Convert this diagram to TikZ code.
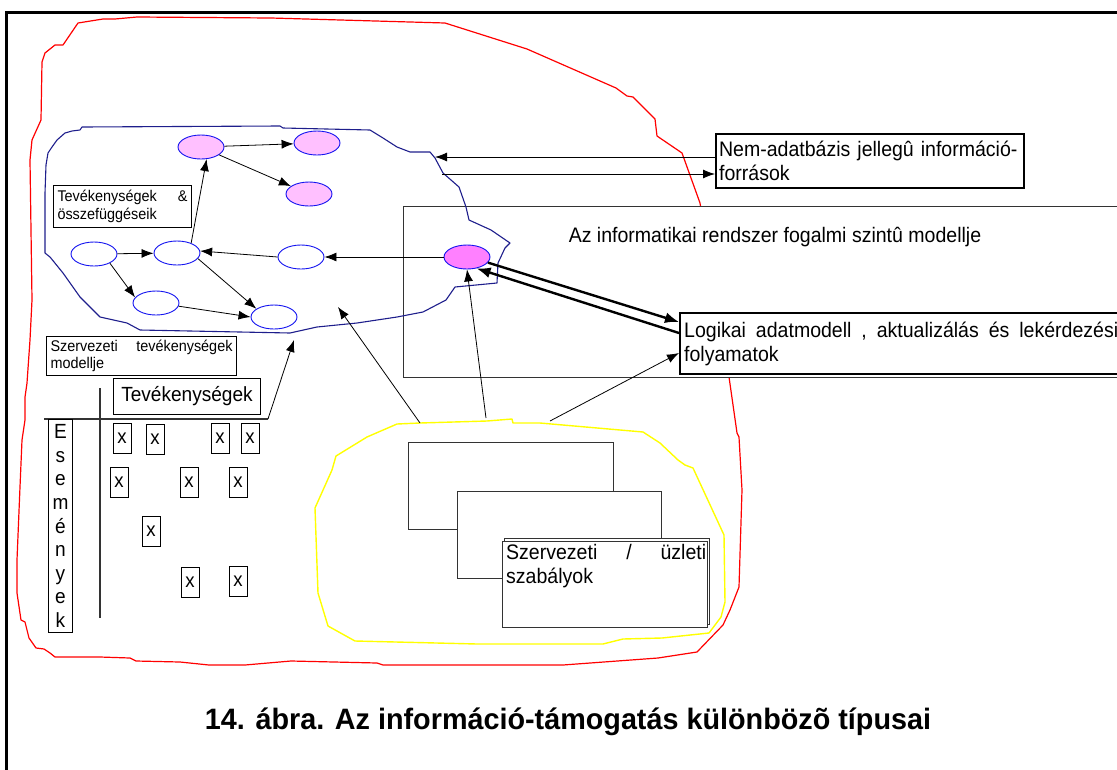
\documentclass[tikz,border=0pt]{standalone}
\usepackage{fontspec}
\setmainfont[FakeStretch=0.93]{Liberation Sans}
\newfontfamily\titlefont[FakeStretch=0.975]{Liberation Sans}
\usetikzlibrary{shapes.geometric,arrows.meta}
\definecolor{lpink}{HTML}{FFC0FF}
\definecolor{mpink}{HTML}{FF80FF}
\definecolor{ellblue}{HTML}{1414F0}
\definecolor{blobblue}{HTML}{1E1E8C}
\definecolor{boxgray}{HTML}{333333}
\definecolor{yel}{HTML}{FFFF00}
\definecolor{redl}{HTML}{FF0000}
\begin{document}
\begin{tikzpicture}[x=1pt,y=-1pt,
  ell/.style={ellipse,draw=ellblue,line width=0.9pt,minimum width=46pt,minimum height=24pt,inner sep=0pt,fill=white},
  pinkell/.style={ell,fill=lpink},
  magell/.style={ell,fill=mpink},
  arr/.style={-{Latex[length=12pt,width=9pt]},line width=0.8pt},
  tarr/.style={-{Latex[length=14pt,width=11pt]},line width=2.4pt},
  xbox/.style={draw,line width=0.8pt,minimum width=18pt,minimum height=30pt,inner sep=0pt,font=\fontsize{20}{24}\selectfont},
  gbox/.style={draw=boxgray,line width=1pt},
  small/.style={font=\fontsize{15.5}{17.5}\selectfont},
  mid/.style={font=\fontsize{21}{24.5}\selectfont}
]
\useasboundingbox (0,0) rectangle (1117,769);
\clip (0,0) rectangle (1117,769);
% outer frame
\draw[line width=3pt] (6,12) rectangle (1140,800);
% red outline
\draw[redl,line width=1.2pt,line join=round]
 (41,120) -- (42,62) -- (45,53) -- (55,45) -- (63,45) -- (78,23) -- (103,19) -- (115,19) -- (137,17)
 -- (271,18) -- (445,23) -- (527,49) -- (616,88) -- (627,96) -- (633,97) -- (650,114) -- (655,119)
 -- (657,136) -- (682,153) -- (700,203) -- (729,377) -- (737,433) -- (739,437) -- (742,490)
 -- (739,587) -- (730,610) -- (723,625) -- (697,652) -- (658,658) -- (563,665) -- (383,665)
 -- (377,663) -- (291,661) -- (245,665) -- (209,665) -- (180,662) -- (136,661) -- (130,658)
 -- (100,657) -- (55,657) -- (50,653) -- (44,649) -- (36,648) -- (29,638) -- (25,622) -- (21,620)
 -- (17,593) -- (17,560) -- (20,487) -- (22,440) -- (25,420) -- (25,397) -- (27,383) -- (30,340)
 -- (32,300) -- (31,230) -- (30,160) -- (32,140) -- cycle;
% yellow outline
\draw[yel,line width=1.4pt,line join=round]
 (397,424) -- (420,423) -- (487,421) -- (512,419) -- (513,423) -- (540,423) -- (643,432) -- (660,443)
 -- (678,460) -- (685,465) -- (693,468) -- (724,535) -- (725,602) -- (721,617) -- (709,633)
 -- (662,638) -- (623,639) -- (603,644) -- (477,644) -- (355,641) -- (328,626) -- (318,593)
 -- (315,508) -- (332,470) -- (336,456) -- (367,437) -- cycle;
% conceptual model box
\node[draw=boxgray,line width=1.2pt,fill=white,anchor=north west,minimum width=740pt,minimum height=171pt,inner sep=0pt] (fog) at (403,206) {};
\node[mid] (fogtext) at (775,237) {Az informatikai rendszer fogalmi szintû modellje};
% blue blob
\draw[blobblue,line width=1.1pt,line join=round]
 (48,153) -- (52,147) -- (57,140) -- (65,133) -- (72,131) -- (80,130) -- (82,127) -- (280,126) -- (283,128) -- (370,130) -- (383,138)
 -- (397,147) -- (410,152) -- (430,152) -- (435,158) -- (443,173) -- (459,187) -- (466,207)
 -- (469,220) -- (491,230) -- (510,243) -- (505,248) -- (498,263) -- (497,283) -- (455,287)
 -- (446,300) -- (423,312) -- (397,317) -- (357,323) -- (317,327) -- (290,333) -- (140,330)
 -- (127,323) -- (100,317) -- (93,310) -- (80,297) -- (63,273) -- (50,257) -- (45,253)
 -- (45,193) -- (46,165) -- cycle;
% ellipses
\node[pinkell] (e1) at (201,147) {};
\node[pinkell] (e2) at (317,143) {};
\node[pinkell] (e3) at (309,194) {};
\node[ell] (e4) at (94,254) {};
\node[ell] (e5) at (177,253) {};
\node[ell] (e6) at (301,257) {};
\node[ell] (e7) at (156,303) {};
\node[ell] (e8) at (274,317) {};
\node[magell] (e9) at (467,257) {};
% label boxes
\node[draw,line width=1pt,anchor=north west,minimum width=138pt,minimum height=42pt,inner sep=0pt,text width=130pt,align=left,small] (tev) at (53,185)
 {\hbox to 130pt{Tevékenységek\hfill\&}\\összefüggéseik};
\node[draw,line width=1pt,anchor=north west,minimum width=190pt,minimum height=39pt,inner sep=0pt,text width=182pt,align=left,small] (szm) at (46,336)
 {\hbox to 182pt{Szervezeti\hfill tevékenységek}\\modellje};
% Nem-adatbazis box
\node[draw,line width=2.2pt,fill=white,anchor=north west,minimum width=308pt,minimum height=54pt,inner xsep=3pt,inner ysep=0pt,text width=302pt,align=left,mid] (nem) at (715,133)
 {Nem-adatbázis jellegû információ-\\források};
% Logikai box
\node[draw,line width=2.4pt,fill=white,anchor=north west,minimum height=61pt,inner xsep=4pt,inner ysep=0pt,text width=450pt,align=left,mid] (log) at (679,312)
 {\hbox to 434pt{Logikai\hfill adatmodell\hfill ,\hfill aktualizálás\hfill és\hfill lekérdezési}\\folyamatok};
% table
\node[draw,line width=1pt,anchor=north west,minimum width=147pt,minimum height=36pt,inner sep=0pt,font=\fontsize{20.5}{24}\selectfont] (tvk) at (113,378) {Tevékenységek};
\coordinate (hl) at (44,419);
\coordinate (hr) at (268,419);
\draw[boxgray,line width=1.2pt] (hl) -- (hr);
\coordinate (vt) at (100,388);
\coordinate (vb) at (100,618);
\draw[boxgray,line width=1.2pt] (vt) -- (vb);
\node[draw,line width=1pt,anchor=north west,minimum width=24pt,minimum height=213pt,inner sep=0pt,align=center,font=\fontsize{20.5}{23.6}\selectfont] (esem) at (48,419)
 {E\\s\\e\\m\\é\\n\\y\\e\\k};
\node[xbox] (x1) at (122,438) {x};
\node[xbox] (x2) at (155,439) {x};
\node[xbox] (x3) at (220,438) {x};
\node[xbox] (x4) at (250,438) {x};
\node[xbox] (x5) at (119,482) {x};
\node[xbox] (x6) at (189,482) {x};
\node[xbox] (x7) at (238,482) {x};
\node[xbox] (x8) at (151,531) {x};
\node[xbox] (x9) at (190,582) {x};
\node[xbox] (x10) at (238,581) {x};
% rule boxes
\node[gbox,anchor=north west,minimum width=205pt,minimum height=87pt,inner sep=0pt] (r1) at (408,442) {};
\node[gbox,fill=white,anchor=north west,minimum width=204pt,minimum height=87pt,inner sep=0pt] (r2) at (457,491) {};
\node[gbox,fill=white,anchor=north west,minimum width=205pt,minimum height=86pt,inner sep=0pt] (r3b) at (504,538) {};
\node[gbox,line width=1.3pt,fill=white,anchor=north west,minimum width=205pt,minimum height=86pt,inner sep=0pt] (r3) at (502,541) {};
\node[anchor=north west,inner sep=0pt,text width=200pt,align=left,mid] (r3t) at (506,544)
 {\hbox to 200pt{Szervezeti\hfill /\hfill üzleti}\\szabályok};
% arrows inside blob
\draw[arr] (e1) -- (e2);
\draw[arr] (e1) -- (e3);
\draw[arr] (e5.35) -- (e1.-65);
\draw[arr] (e4) -- (e5);
\draw[arr] (e4.-30) -- (e7.165);
\draw[arr] (e5.-15) -- (e8.155);
\draw[arr] (e7.-8) -- (e8.180);
\draw[arr] (e6.west) -- (e5.5);
\draw[arr] (e9) -- (e6);
% Nem arrows
\path (nem.north west) ++(0,24) coordinate (na);
\path (nem.north west) ++(0,41) coordinate (nb);
\coordinate (bn1) at (435,157);
\coordinate (bn2) at (442,174);
\draw[arr] (na) -- (bn1);
\draw[arr] (bn2) -- (nb);
% thick arrows to logical model
\path (log.north west) ++(0,10) coordinate (la);
\path (log.north west) ++(0,21) coordinate (lb);
\path (log.north west) ++(0,41) coordinate (lc);
\draw[tarr] (e9.-15) -- (la);
\draw[tarr] (lb) -- (e9.-50);
% arrows from rules
\coordinate (ya) at (420,423);
\coordinate (yb) at (486,418);
\coordinate (yc) at (550,421);
\coordinate (bp1) at (338,307);
\draw[arr] (ya) -- (bp1);
\draw[arr] (yb) -- (e9.south);
\draw[arr] (yc) -- (lc);
% arrow from table
\coordinate (bp2) at (294,340);
\draw[arr] (hr) -- (bp2);
% caption
\node[font=\titlefont\bfseries\fontsize{29.5}{33}\selectfont] (cap) at (568,722) {14. ábra. Az információ-támogatás különbözõ típusai};
\end{tikzpicture}
\end{document}
